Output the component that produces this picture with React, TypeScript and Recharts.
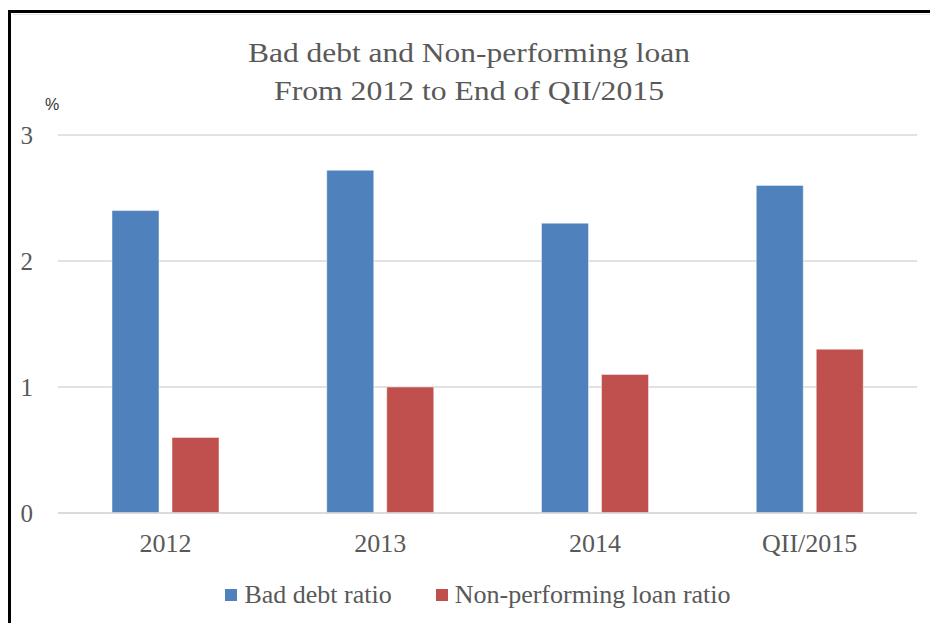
import React from 'react';
import { BarChart, Bar, XAxis, YAxis, CartesianGrid } from 'recharts';

const categories = ['2012', '2013', '2014', 'QII/2015'];
const badDebt = [2.4, 2.72, 2.3, 2.6];
const nplRatio = [0.6, 1.0, 1.1, 1.3];
const yTicks = [0, 1, 2, 3];

const series = [
  { key: 'badDebt', name: 'Bad debt ratio', color: '#4F81BD' },
  { key: 'npl', name: 'Non-performing loan ratio', color: '#C0504D' },
];

const titleLines = ['Bad debt and Non-performing loan', 'From 2012 to End of QII/2015'];

const SERIF = '"Liberation Serif", "Times New Roman", serif';
const GRAY = '#595959';

const data = categories.map((name, i) => ({
  name,
  badDebt: badDebt[i],
  npl: nplRatio[i],
}));

export default function App() {
  return (
    <div
      style={{
        position: 'fixed',
        left: 0,
        top: 0,
        width: 930,
        height: 623,
        background: '#fff',
        overflow: 'hidden',
        fontFamily: SERIF,
      }}
    >
      {/* sheet frame */}
      <div style={{ position: 'absolute', left: 13, top: 14, width: 917, height: 1, background: '#E3E3E3' }} />
      <div style={{ position: 'absolute', left: 8, top: 10, width: 922, height: 3, background: '#000' }} />
      <div style={{ position: 'absolute', left: 8, top: 10, width: 3, height: 613, background: '#000' }} />

      <BarChart
        width={930}
        height={623}
        data={data}
        margin={{ top: 135, right: 13, left: 0, bottom: 70 }}
        barSize={47}
        barGap={13}
        style={{ position: 'absolute', left: 0, top: 0 }}
      >
        <CartesianGrid vertical={false} stroke="#D9D9D9" strokeWidth={1.5} />
        <XAxis
          dataKey="name"
          height={40}
          tickLine={false}
          tickSize={0}
          tickMargin={21}
          axisLine={{ stroke: '#D9D9D9', strokeWidth: 1.5 }}
          tick={{ fill: GRAY, fontSize: 26, fontFamily: SERIF }}
        />
        <YAxis
          width={58}
          domain={[0, 3]}
          ticks={yTicks}
          axisLine={false}
          tickLine={false}
          tickSize={0}
          tickMargin={25}
          tick={{ fill: GRAY, fontSize: 25, fontFamily: SERIF }}
        />
        {series.map((s) => (
          <Bar
            key={s.key}
            dataKey={s.key}
            name={s.name}
            fill={s.color}
            stroke="#ffffff"
            strokeOpacity={0.45}
            strokeWidth={1}
            isAnimationActive={false}
          />
        ))}
      </BarChart>

      <svg
        width={930}
        height={623}
        style={{ position: 'absolute', left: 0, top: 0, pointerEvents: 'none' }}
      >
        {titleLines.map((line, i) => (
          <text
            key={line}
            x={469}
            y={62 + i * 38}
            textAnchor="middle"
            fontFamily={SERIF}
            fontSize={27}
            fill={GRAY}
            textLength={i === 0 ? 442 : 390}
            lengthAdjust="spacingAndGlyphs"
          >
            {line}
          </text>
        ))}
        <text x={45} y={110} fontFamily='"Liberation Sans", Arial, sans-serif' fontSize={16} fill="#333">
          %
        </text>
      </svg>

      {/* legend */}
      <div
        style={{
          position: 'absolute',
          left: 0,
          top: 578,
          width: 956,
          display: 'flex',
          justifyContent: 'center',
          gap: 44,
        }}
      >
        {series.map((s) => (
          <div key={s.key} style={{ display: 'flex', alignItems: 'center' }}>
            <div style={{ width: 12, height: 12, background: s.color, marginRight: 7 }} />
            <span style={{ fontSize: 26, color: GRAY, lineHeight: '34px' }}>{s.name}</span>
          </div>
        ))}
      </div>
    </div>
  );
}
